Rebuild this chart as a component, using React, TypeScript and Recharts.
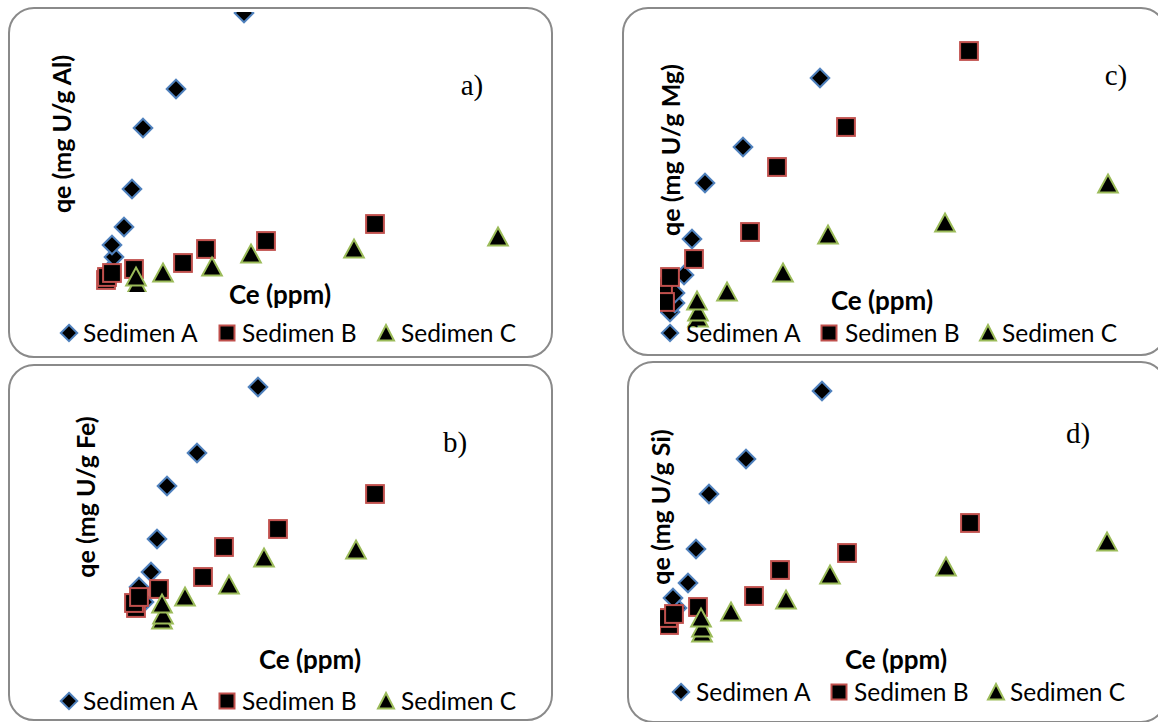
import React from 'react';
import { ScatterChart, Scatter, XAxis, YAxis } from 'recharts';

const seriesNames = ['Sedimen A', 'Sedimen B', 'Sedimen C'];
const xTitle = 'Ce (ppm)';
const yTitles = ['qe (mg U/g Al)', 'qe (mg U/g Fe)', 'qe (mg U/g Mg)', 'qe (mg U/g Si)'];
const panelTags = ['a)', 'b)', 'c)', 'd)'];

// Panel a (Al)
const aCeA = [3.25, 4.75, 4.25, 7.25, 9.25, 12.0, 20.25, 37.25];
const aQeA = [4.0, 7.0, 9.4, 13.0, 20.6, 32.8, 40.6, 55.8];
const aCeB = [2.75, 3.0, 4.25, 9.75, 22.0, 27.75, 42.75, 70.0];
const aQeB = [2.4, 3.0, 3.8, 4.6, 5.8, 8.6, 10.2, 13.6];
const aCeC = [10.5, 10.5, 10.25, 17.0, 29.25, 39.0, 64.75, 100.75];
const aQeC = [1.0, 1.4, 3.0, 3.8, 5.0, 7.6, 8.6, 11.0];

// Panel b (Fe)
const bCeA = [12.25, 11.0, 14.0, 15.5, 18.0, 25.5, 40.75];
const bQeA = [9.5, 13.25, 17.0, 25.25, 38.5, 46.75, 63.25];
const bCeB = [10.25, 9.75, 11.0, 16.0, 27.0, 32.25, 45.75, 70.0];
const bQeB = [8.0, 9.25, 10.75, 12.75, 15.75, 23.25, 27.75, 36.5];
const bCeC = [16.75, 17.0, 16.75, 22.5, 33.5, 42.25, 65.25];
const bQeC = [5.0, 6.25, 9.0, 10.75, 13.75, 20.5, 22.5];

// Panel c (Mg)
const cCeA = [2.5, 3.75, 3.75, 6.0, 8.0, 11.25, 20.75, 40.0];
const cQeA = [4.5, 6.75, 9.25, 13.75, 22.75, 36.75, 45.75, 63.0];
const cCeB = [0.75, 1.25, 2.5, 8.5, 22.5, 29.25, 46.5, 77.25];
const cQeB = [10.75, 7.0, 13.25, 17.75, 24.5, 40.75, 50.75, 69.75];
const cCeC = [9.5, 9.5, 9.25, 16.75, 30.75, 42.0, 71.25, 112.0];
const cQeC = [3.0, 4.5, 7.25, 9.5, 14.25, 23.75, 26.75, 36.5];

// Panel d (Si)
const dCeA = [4.25, 3.25, 7.0, 9.0, 12.25, 21.5, 40.5];
const dQeA = [10.5, 13.0, 16.75, 25.25, 39.0, 47.75, 64.75];
const dCeB = [2.25, 2.0, 3.5, 9.5, 23.5, 30.0, 46.75, 77.5];
const dQeB = [6.25, 8.0, 9.0, 10.75, 13.5, 20.0, 24.25, 31.75];
const dCeC = [10.5, 10.5, 10.25, 17.75, 31.5, 42.5, 71.5, 111.75];
const dQeC = [4.25, 5.5, 8.0, 9.5, 12.5, 18.75, 20.75, 27.0];

const zip = (xs: number[], ys: number[]) => xs.map((x, i) => ({ x, y: ys[i] }));

const BLUE = '#4f81bd';
const RED = '#c0504d';
const GREEN = '#9bbb59';
const SANS = 'Lato, "Open Sans", sans-serif';

const DiamondShape = (p: any) => {
  const { cx, cy } = p;
  const r = 9.3;
  return <path d={`M${cx},${cy - r}L${cx + r},${cy}L${cx},${cy + r}L${cx - r},${cy}Z`} fill="#000" stroke={BLUE} strokeWidth={2} />;
};
const SquareShape = (p: any) => {
  const { cx, cy } = p;
  const h = 8.9;
  return <rect x={cx - h} y={cy - h} width={2 * h} height={2 * h} fill="#000" stroke={RED} strokeWidth={2} />;
};
const TriangleShape = (p: any) => {
  const { cx, cy } = p;
  return <path d={`M${cx},${cy - 9.5}L${cx + 9.8},${cy + 8.5}L${cx - 9.8},${cy + 8.5}Z`} fill="#000" stroke={GREEN} strokeWidth={2} strokeLinejoin="miter" />;
};

const panels = [
  {
    box: { left: 8, top: 7, width: 545, height: 351 },
    margin: { top: 5, right: 18, bottom: 66, left: 87 },
    xMax: 110, yMax: 56,
    series: [zip(aCeA, aQeA), zip(aCeB, aQeB), zip(aCeC, aQeC)],
    yTitle: yTitles[0], tag: panelTags[0],
    yLab: [61, 134], xLab: [280, 294], tagPos: [472, 85],
    legendY: 333, legendM: [69, 227, 386], legendT: [83, 242, 401],
  },
  {
    box: { left: 8, top: 364, width: 545, height: 357 },
    margin: { top: 4, right: 18, bottom: 81, left: 87 },
    xMax: 110, yMax: 68,
    series: [zip(bCeA, bQeA), zip(bCeB, bQeB), zip(bCeC, bQeC)],
    yTitle: yTitles[1], tag: panelTags[1],
    yLab: [85, 497], xLab: [310, 659], tagPos: [455, 442],
    legendY: 701, legendM: [69, 227, 386], legendT: [83, 242, 401],
  },
  {
    box: { left: 622, top: 7, width: 545, height: 349 },
    margin: { top: 3, right: 27, bottom: 26, left: 38 },
    xMax: 120, yMax: 80,
    series: [zip(cCeA, cQeA), zip(cCeB, cQeB), zip(cCeC, cQeC)],
    yTitle: yTitles[2], tag: panelTags[2],
    yLab: [670, 150], xLab: [882, 300], tagPos: [1116, 75],
    legendY: 333, legendM: [670, 829, 988], legendT: [686, 845, 1002],
  },
  {
    box: { left: 627, top: 361, width: 540, height: 362 },
    margin: { top: 1, right: 27, bottom: 73, left: 33 },
    xMax: 120, yMax: 72,
    series: [zip(dCeA, dQeA), zip(dCeB, dQeB), zip(dCeC, dQeC)],
    yTitle: yTitles[3], tag: panelTags[3],
    yLab: [660, 507], xLab: [896, 659], tagPos: [1078, 433],
    legendY: 692, legendM: [681, 839, 996], legendT: [696, 854, 1010],
  },
];

const shapes = [DiamondShape, SquareShape, TriangleShape];

const Label = ({ x, y, rotate, style, children }: any) => (
  <div
    style={{
      position: 'absolute', left: x, top: y,
      transform: `translate(-50%, -50%)${rotate ? ' rotate(-90deg)' : ''}`,
      whiteSpace: 'nowrap', lineHeight: 1, color: '#000', ...style,
    }}
  >
    {children}
  </div>
);

const LegendMarker = ({ kind }: { kind: number }) => (
  <svg width={20} height={20} style={{ display: 'block' }}>
    {kind === 0 && <path d="M10,1.8L18.2,10L10,18.2L1.8,10Z" fill="#000" stroke={BLUE} strokeWidth={2} />}
    {kind === 1 && <rect x={2.5} y={2.5} width={15} height={15} fill="#000" stroke={RED} strokeWidth={2} />}
    {kind === 2 && <path d="M10,2L18,17.5L2,17.5Z" fill="#000" stroke={GREEN} strokeWidth={2} />}
  </svg>
);

export default function App() {
  return (
    <div style={{ position: 'absolute', left: 0, top: 0, width: 1158, height: 722, overflow: 'hidden', background: '#fff' }}>
      {panels.map((p, pi) => (
        <React.Fragment key={pi}>
          <div style={{ position: 'absolute', left: p.box.left, top: p.box.top }}>
            <ScatterChart width={p.box.width} height={p.box.height} margin={p.margin}>
              <XAxis type="number" dataKey="x" domain={[0, p.xMax]} allowDataOverflow hide />
              <YAxis type="number" dataKey="y" domain={[0, p.yMax]} allowDataOverflow hide />
              {p.series.map((data, si) => (
                <Scatter key={si} name={seriesNames[si]} data={data} shape={shapes[si]} isAnimationActive={false} />
              ))}
            </ScatterChart>
          </div>
          <div
            style={{
              position: 'absolute', left: p.box.left, top: p.box.top, width: p.box.width, height: p.box.height,
              boxSizing: 'border-box', border: '2px solid #8a8a8a', borderRadius: 26, pointerEvents: 'none',
            }}
          />
          <Label x={p.yLab[0]} y={p.yLab[1]} rotate style={{ fontFamily: SANS, fontWeight: 700, fontSize: 25 }}>{p.yTitle}</Label>
          <Label x={p.xLab[0]} y={p.xLab[1]} style={{ fontFamily: SANS, fontWeight: 700, fontSize: 26 }}>{xTitle}</Label>
          <Label x={p.tagPos[0]} y={p.tagPos[1]} style={{ fontFamily: '"Liberation Serif", "Times New Roman", serif', fontSize: 29 }}>{p.tag}</Label>
          {seriesNames.map((n, si) => (
            <React.Fragment key={si}>
              <div style={{ position: 'absolute', left: p.legendM[si] - 10, top: p.legendY - 10 }}>
                <LegendMarker kind={si} />
              </div>
              <div
                style={{
                  position: 'absolute', left: p.legendT[si], top: p.legendY, transform: 'translateY(-50%)',
                  fontFamily: SANS, fontSize: 24.5, lineHeight: 1, whiteSpace: 'nowrap', color: '#000',
                }}
              >
                {n}
              </div>
            </React.Fragment>
          ))}
        </React.Fragment>
      ))}
    </div>
  );
}
